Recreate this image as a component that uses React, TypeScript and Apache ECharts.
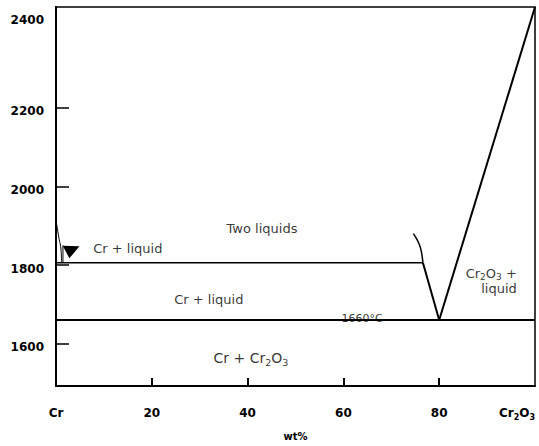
import React, { useEffect, useRef } from "react";
import * as echarts from "echarts";

// Cr – Cr2O3 phase diagram (temperature in °C against wt% Cr2O3)

const X_MIN = 0;
const X_MAX = 100;
const Y_MIN = 1492;
const Y_MAX = 2457;

const xTickValues = [0, 20, 40, 60, 80, 100];
const xTickMarks = [20, 40, 60, 80];
const yTickValues = [1600, 1800, 2000, 2200, 2400];
const yTickMarks = [1600, 1800, 2000, 2200];

const EUTECTIC_T = 1660;
const MONOTECTIC_T = 1806;

// eutectic isotherm across the whole diagram
const eutecticLine = [
  [0, EUTECTIC_T],
  [100, EUTECTIC_T],
];
// monotectic isotherm (Cr + two liquids)
const monotecticLine = [
  [0, MONOTECTIC_T],
  [76.6, MONOTECTIC_T],
];
// Cr2O3 liquidus
const cr2o3Liquidus = [
  [80, EUTECTIC_T],
  [100, Y_MAX],
];
// liquidus between the eutectic and the monotectic
const oxideLiquidus = [
  [80, EUTECTIC_T],
  [76.6, MONOTECTIC_T],
];
// start of the miscibility gap above the monotectic
const gapBoundary = [
  [76.6, MONOTECTIC_T],
  [76.35, 1829],
  [76.0, 1847],
  [75.4, 1864],
  [74.6, 1880],
];
// Cr liquidus near pure Cr
const crLiquidus = [
  [0, 1914],
  [0.6, 1870],
  [1.05, 1838],
  [1.15, MONOTECTIC_T],
];
const crLiquidusInner = [
  [1.45, 1850],
  [1.45, MONOTECTIC_T],
];
// filled arrow head next to the Cr liquidus
const arrowVertices = [
  [1.4, 1849],
  [4.9, 1848],
  [2.8, 1817],
];

type Note = {
  text: string;
  x: number;
  y: number;
  align?: "left" | "center" | "right";
};

const regionNotes: Note[] = [
  { text: "Two liquids", x: 43.0, y: 1892 },
  { text: "Cr + liquid", x: 15.0, y: 1843 },
  { text: "Cr + liquid", x: 31.9, y: 1713 },
  { text: "{t|Cr}{s|2}{t|O}{s|3}{t| +}\n{t|liquid}", x: 96.2, y: 1760, align: "right" },
  { text: "{b|Cr + Cr}{bs|2}{b|O}{bs|3}", x: 40.7, y: 1563 },
];

const FONT = "DejaVu Sans";

export default function App() {
  const ref = useRef<HTMLDivElement>(null);

  useEffect(() => {
    if (!ref.current) return;
    const chart = echarts.init(ref.current, undefined, { renderer: "svg" });

    const lineSeries = (data: number[][], smooth = false, width = 1.5) => ({
      type: "line",
      data,
      smooth,
      symbol: "none",
      silent: true,
      lineStyle: { color: "#000", width },
      z: 3,
    });

    const rich = {
      t: { fontFamily: FONT, fontSize: 13, color: "#000", lineHeight: 15 },
      s: { fontFamily: FONT, fontSize: 9, color: "#000", lineHeight: 15, verticalAlign: "bottom" as const, padding: [0, 0, -1, 0] },
      b: { fontFamily: FONT, fontSize: 14, color: "#000", lineHeight: 17 },
      bs: { fontFamily: FONT, fontSize: 9.5, color: "#000", lineHeight: 17, verticalAlign: "bottom" as const, padding: [0, 0, -1, 0] },
      xt: { fontFamily: FONT, fontSize: 12, fontWeight: "bold" as const, color: "#000", lineHeight: 15 },
      xs: { fontFamily: FONT, fontSize: 8, fontWeight: "bold" as const, color: "#000", lineHeight: 15, verticalAlign: "bottom" as const, padding: [0, 0, -1, 0] },
      yl: { fontFamily: FONT, fontSize: 12, fontWeight: "bold" as const, color: "#000", padding: [7, 0, 0, 0] },
      yt: { fontFamily: FONT, fontSize: 12, fontWeight: "bold" as const, color: "#000", padding: [0, 0, 19, 0] },
    };

    chart.setOption({
      animation: false,
      grid: {
        left: 56,
        right: 4,
        top: 7,
        bottom: 60,
        show: true,
        borderColor: "#000",
        borderWidth: 1.5,
      },
      xAxis: {
        type: "value",
        min: X_MIN,
        max: X_MAX,
        name: "wt%",
        nameLocation: "middle",
        nameGap: 45,
        nameTextStyle: { fontFamily: FONT, fontSize: 10, fontWeight: "bold", color: "#000" },
        splitLine: { show: false },
        axisLine: { lineStyle: { color: "#000", width: 2 } },
        axisTick: {
          inside: true,
          length: 8,
          lineStyle: { color: "#000", width: 2 },
          customValues: xTickMarks,
        },
        axisLabel: {
          customValues: xTickValues,
          margin: 19,
          alignMaxLabel: "right",
          formatter: (v: number) =>
            v === 0 ? "{xt|Cr}" : v === 100 ? "{xt|Cr}{xs|2}{xt|O}{xs|3}" : `{xt|${v}}`,
          rich,
        },
      },
      yAxis: {
        type: "value",
        min: Y_MIN,
        max: Y_MAX,
        splitLine: { show: false },
        axisLine: { lineStyle: { color: "#000", width: 2 } },
        axisTick: {
          inside: true,
          length: 13,
          lineStyle: { color: "#000", width: 1.5 },
          customValues: yTickMarks,
        },
        axisLabel: {
          customValues: yTickValues,
          margin: 12,
          formatter: (v: number) => (v === 2400 ? `{yt|${v}}` : `{yl|${v}}`),
          rich,
        },
      },
      series: [
        lineSeries(eutecticLine, false, 2),
        lineSeries(monotecticLine, false, 1.5),
        lineSeries(cr2o3Liquidus, false, 2),
        lineSeries(oxideLiquidus, false, 2),
        lineSeries(gapBoundary, true, 1.5),
        lineSeries(crLiquidus, true, 1),
        lineSeries(crLiquidusInner, false, 1),
        {
          type: "custom",
          silent: true,
          data: [arrowVertices[0]],
          encode: { x: 0, y: 1 },
          renderItem: (_params: any, api: any) => ({
            type: "polygon",
            shape: { points: arrowVertices.map((p) => api.coord(p)) },
            style: { fill: "#000" },
          }),
          z: 4,
        },
        {
          type: "scatter",
          silent: true,
          symbolSize: 0,
          data: regionNotes.map((n) => ({
            value: [n.x, n.y],
            label: {
              show: true,
              position: "inside",
              formatter: n.text.startsWith("{") ? n.text : `{t|${n.text}}`,
              align: n.align ?? "center",
              rich,
            },
          })),
          z: 5,
        },
        {
          type: "scatter",
          silent: true,
          symbolSize: 0,
          data: [
            {
              value: [63.9, EUTECTIC_T],
              label: {
                show: true,
                position: "top",
                distance: -4,
                formatter: "1660°C",
                fontFamily: FONT,
                fontSize: 11,
                color: "#000",
              },
            },
          ],
          z: 5,
        },
      ],
    });

    return () => chart.dispose();
  }, []);

  return (
    <div
      ref={ref}
      style={{ position: "absolute", left: 0, top: 0, width: 539, height: 446, background: "#fff" }}
    />
  );
}
